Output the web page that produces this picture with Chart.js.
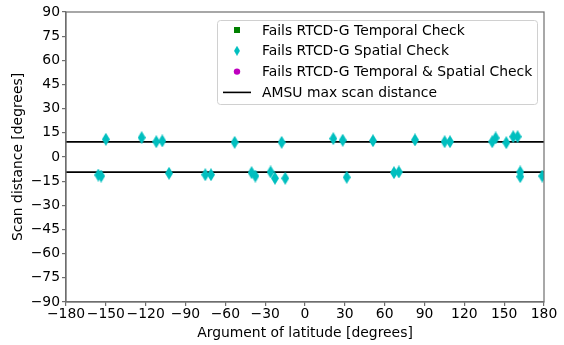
<!DOCTYPE html>
<html>
<head>
<meta charset="utf-8">
<script src="https://cdn.jsdelivr.net/npm/chart.js@4"></script>
<style>
    html, body { margin: 0; padding: 0; background: #fff; }
    #wrap { width: 564px; height: 345px; }
</style>
</head>
<body>
<div id="wrap"><canvas id="scanChart" width="564" height="345"></canvas></div>
<script>
// points failing the spatial check (argument of latitude, scan distance)
const spatialX = [-150, -123, -112, -107.5, -53, -17.6, 21.3, 28.4, 51.2, 82.8, 105.2, 109.2, 141, 143.6, 151.6, 156.8, 160.1,
    -155.7, -153.5, -102.4, -75.1, -70.8, -40.2, -37.4, -25.9, -22.6, -14.9, 31.4, 67, 70.7, 162.1, 162.1, 178.7];
const spatialY = [11, 12, 9.5, 10, 9.1, 9.1, 11.4, 10.4, 10.1, 10.6, 9.5, 9.5, 9.5, 11.8, 8.9, 12.6, 12.6,
    -11.2, -11.8, -10.1, -11, -11, -9.7, -11.8, -9.3, -13.2, -13.2, -12.6, -9.7, -9.3, -9.3, -12.2, -11.8];

// no points for these two checks
const temporalX = [];
const temporalY = [];
const bothX = [];
const bothY = [];

const scanLimit = 9.4;
const lineX = [-180, 180];

const xTicks = [-180, -150, -120, -90, -60, -30, 0, 30, 60, 90, 120, 150, 180];
const yTicks = [-90, -75, -60, -45, -30, -15, 0, 15, 30, 45, 60, 75, 90];

const font = "'DejaVu Sans', sans-serif";
const fontSize = 13.9;
const cyan = "#00bfbf";
const green = "#008000";
const magenta = "#bf00bf";
const spine = "#6e6e6e";

function toPoints(xs, ys) {
    return xs.map(function (x, i) { return { x: x, y: ys[i] }; });
}

function minus(v) {
    return String(v).replace("-", "\u2212");
}

// thin diamond like matplotlib "d"
function thinDiamond(w, h, color) {
    const c = document.createElement("canvas");
    c.width = w;
    c.height = h;
    const g = c.getContext("2d");
    g.fillStyle = color;
    g.beginPath();
    g.moveTo(w / 2, 0);
    g.lineTo(w, h / 2);
    g.lineTo(w / 2, h);
    g.lineTo(0, h / 2);
    g.closePath();
    g.fill();
    return c;
}

const diamond = thinDiamond(8, 13, cyan);

// frame on all four sides + legend box
const framePlugin = {
    id: "frame",
    afterDraw: function (chart) {
        const ctx = chart.ctx;
        const a = chart.chartArea;
        ctx.save();
        ctx.strokeStyle = spine;
        ctx.lineWidth = 1.2;
        ctx.strokeRect(a.left, a.top, a.right - a.left, a.bottom - a.top);

        // legend
        const bx = a.right - 327, by = a.top + 8, bw = 320, bh = 84;
        ctx.fillStyle = "rgba(255,255,255,0.8)";
        ctx.strokeStyle = "#d0d0d0";
        ctx.lineWidth = 1;
        ctx.beginPath();
        ctx.roundRect(bx + 0.5, by + 0.5, bw, bh, 3);
        ctx.fill();
        ctx.stroke();

        const rows = ["Fails RTCD-G Temporal Check", "Fails RTCD-G Spatial Check",
            "Fails RTCD-G Temporal & Spatial Check", "AMSU max scan distance"];
        const mx = bx + 20, tx = bx + 45;
        ctx.font = fontSize + "px " + font;
        ctx.textBaseline = "middle";
        rows.forEach(function (label, i) {
            const ry = by + 10 + i * 20.8;
            if (i === 0) {
                ctx.fillStyle = green;
                ctx.fillRect(mx - 3, ry - 3, 6, 6);
            } else if (i === 1) {
                ctx.drawImage(thinDiamond(6, 10, cyan), mx - 3, ry - 5);
            } else if (i === 2) {
                ctx.fillStyle = magenta;
                ctx.beginPath();
                ctx.arc(mx, ry, 3.2, 0, Math.PI * 2);
                ctx.fill();
            } else {
                ctx.strokeStyle = "#000";
                ctx.lineWidth = 1.6;
                ctx.beginPath();
                ctx.moveTo(mx - 14, ry);
                ctx.lineTo(mx + 14, ry);
                ctx.stroke();
            }
            ctx.fillStyle = "#000";
            ctx.fillText(label, tx, ry + 1);
        });
        ctx.restore();
    }
};

new Chart(document.getElementById("scanChart"), {
    type: "scatter",
    data: {
        datasets: [
            {
                label: "Fails RTCD-G Temporal Check",
                data: toPoints(temporalX, temporalY),
                pointStyle: "rect",
                backgroundColor: green
            },
            {
                label: "Fails RTCD-G Spatial Check",
                data: toPoints(spatialX, spatialY),
                pointStyle: diamond,
                backgroundColor: cyan
            },
            {
                label: "Fails RTCD-G Temporal & Spatial Check",
                data: toPoints(bothX, bothY),
                pointStyle: "circle",
                backgroundColor: magenta
            },
            {
                label: "AMSU max scan distance",
                type: "line",
                data: toPoints(lineX, [scanLimit, scanLimit]),
                borderColor: "#000",
                borderWidth: 1.8,
                pointRadius: 0,
                order: 5
            },
            {
                label: "lower limit",
                type: "line",
                data: toPoints(lineX, [-scanLimit, -scanLimit]),
                borderColor: "#000",
                borderWidth: 1.8,
                pointRadius: 0,
                order: 5
            }
        ]
    },
    options: {
        responsive: false,
        animation: false,
        layout: { padding: { top: 12, right: 20, left: 0, bottom: 0 } },
        plugins: {
            legend: { display: false },
            tooltip: { enabled: false }
        },
        scales: {
            x: {
                type: "linear",
                min: -180,
                max: 180,
                afterBuildTicks: function (s) { s.ticks = xTicks.map(function (v) { return { value: v }; }); },
                afterFit: function (s) { s.height = 43; },
                grid: { drawOnChartArea: false, drawTicks: true, tickLength: 4, color: spine, lineWidth: 1.2 },
                border: { color: spine, width: 1.2 },
                ticks: {
                    color: "#000",
                    padding: 0,
                    maxRotation: 0,
                    autoSkip: false,
                    font: { family: font, size: fontSize },
                    callback: function (v) { return minus(v); }
                },
                title: {
                    display: true,
                    text: "Argument of latitude [degrees]",
                    color: "#000",
                    padding: { top: 0, bottom: 3.5 },
                    font: { family: font, size: fontSize }
                }
            },
            y: {
                min: -90,
                max: 90,
                afterBuildTicks: function (s) { s.ticks = yTicks.map(function (v) { return { value: v }; }); },
                afterFit: function (s) { s.width = 66; },
                grid: { drawOnChartArea: false, drawTicks: true, tickLength: 4, color: spine, lineWidth: 1.2 },
                border: { color: spine, width: 1.2 },
                ticks: {
                    color: "#000",
                    padding: 2,
                    autoSkip: false,
                    font: { family: font, size: fontSize },
                    callback: function (v) { return minus(v); }
                },
                title: {
                    display: true,
                    text: "Scan distance [degrees]",
                    color: "#000",
                    padding: { top: 10, bottom: 0 },
                    font: { family: font, size: fontSize }
                }
            }
        }
    },
    plugins: [framePlugin]
});
</script>
</body>
</html>
